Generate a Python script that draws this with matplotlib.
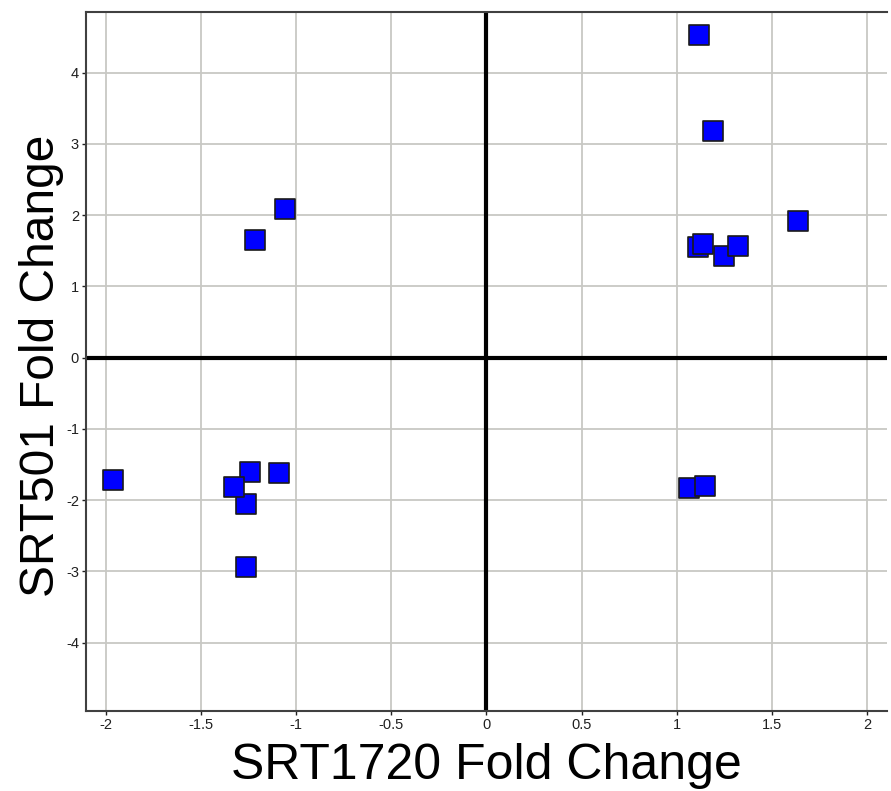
import matplotlib.pyplot as plt
from matplotlib.ticker import FuncFormatter

plt.rcParams['font.family'] = ['Liberation Sans', 'DejaVu Sans']
plt.rcParams['axes.unicode_minus'] = False

# fold change values
srt1720 = [1.117, 1.19, 1.636, 1.11, 1.138, 1.248, 1.32,
           -1.059, -1.213,
           -1.963, -1.243, -1.089, -1.265, -1.325, -1.265,
           1.064, 1.147]
srt501 = [4.53, 3.18, 1.92, 1.55, 1.59, 1.43, 1.57,
          2.08, 1.65,
          -1.72, -1.60, -1.62, -2.05, -1.815, -2.94,
          -1.83, -1.80]

x_ticks = [-2, -1.5, -1, -0.5, 0, 0.5, 1, 1.5, 2]
y_ticks = [-4, -3, -2, -1, 0, 1, 2, 3, 4]

fig = plt.figure(figsize=(8.91, 7.91), dpi=100)
ax = fig.add_axes([0.0965, 0.1011, 0.899, 0.8837])

ax.set_xlim(-2.103, 2.103)
ax.set_ylim(-4.96, 4.85)
ax.set_xticks(x_ticks)
ax.set_yticks(y_ticks)
fmt = FuncFormatter(lambda v, p: ('%g' % v))
ax.xaxis.set_major_formatter(fmt)
ax.yaxis.set_major_formatter(fmt)

ax.grid(True, color='#c8c8c4', linewidth=1.3, zorder=0)
ax.set_axisbelow(True)
ax.axhline(0, color='black', linewidth=3, zorder=2)
ax.axvline(0, color='black', linewidth=3, zorder=2)

ax.scatter(srt1720, srt501, marker='s', s=225, color='#0000ff',
           edgecolors='#1a1a1a', linewidths=1.2, zorder=3)

for side in ['left', 'bottom', 'top']:
    ax.spines[side].set_color('#404040')
    ax.spines[side].set_linewidth(1.5)
ax.spines['right'].set_visible(False)
ax.tick_params(direction='out', length=3, width=1, colors='#202020',
               labelsize=10.5, pad=2)

ax.set_xlabel('SRT1720 Fold Change', fontsize=36, labelpad=8)
ax.set_ylabel('SRT501 Fold Change', fontsize=34.5)
ax.yaxis.set_label_coords(-0.028, 0.494)

fig.savefig('out.png', dpi=100)
